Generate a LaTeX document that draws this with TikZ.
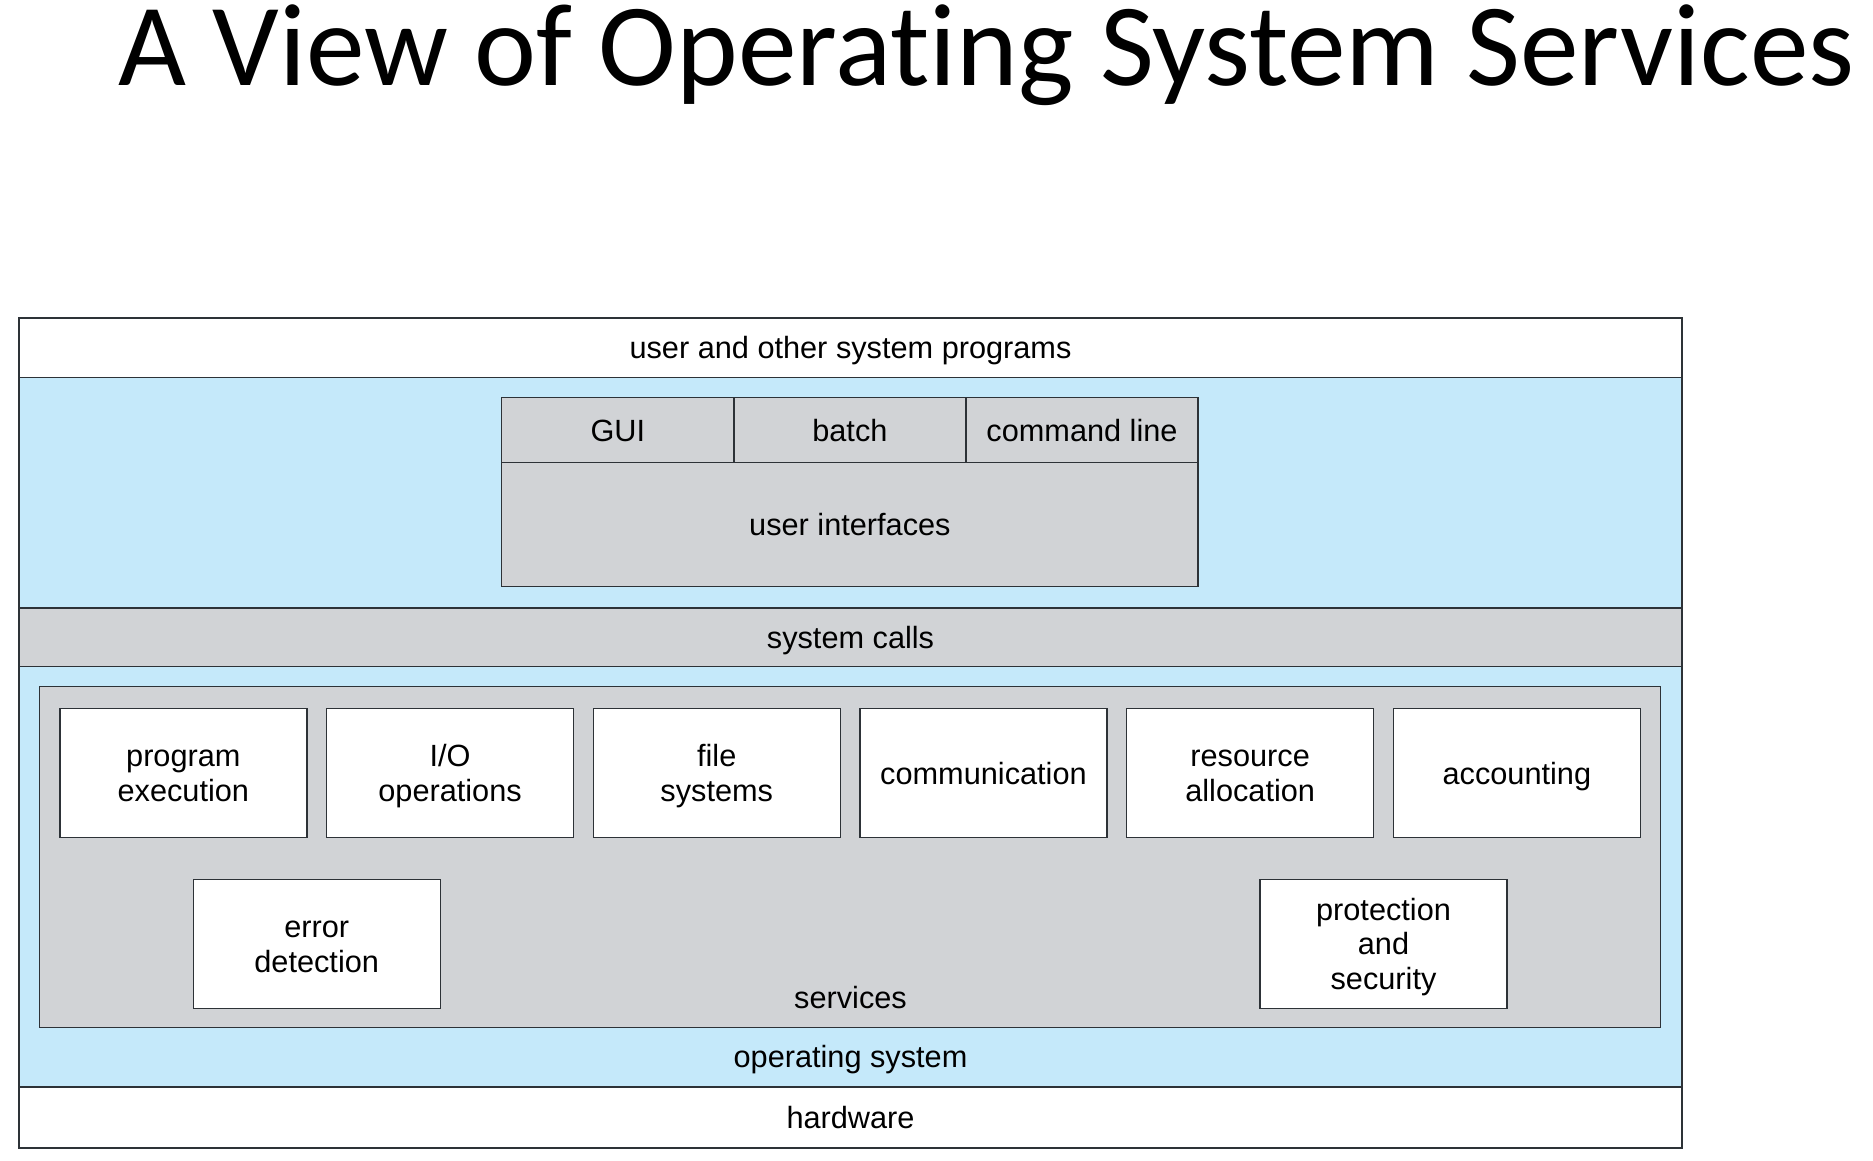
\documentclass[tikz,border=0pt]{standalone}
\usepackage{fontspec}
\setmainfont{Liberation Sans}
\newfontfamily\titlefont[Ligatures=NoCommon]{Carlito}
\usetikzlibrary{positioning}
\definecolor{osblue}{RGB}{197,233,250}
\definecolor{osgray}{RGB}{209,211,214}
\definecolor{osline}{RGB}{45,50,55}

\begin{document}
\begin{tikzpicture}[x=1pt,y=-1pt,
    font=\fontsize{30.7}{34.6}\selectfont,
    every node/.style={text height=22.4pt,text depth=0pt},
    layer/.style={draw=osline,line width=1.6pt,minimum width=1662.8pt,inner sep=0pt,outer sep=0pt},
    uicell/.style={draw=osline,fill=osgray,line width=1.3pt,minimum width=232.1pt,minimum height=64.5pt,inner sep=0pt,outer sep=0pt},
    service/.style={draw=osline,fill=white,line width=1.3pt,minimum width=247pt,minimum height=129pt,align=center,inner sep=0pt,outer sep=0pt}]
    \useasboundingbox (0,0) rectangle (1873,1160);

    \node[font=\titlefont\fontsize{117.4}{120}\selectfont,anchor=base] (title) at (986.5,85) {A View of Operating System Services};

    % layers
    \node[layer,fill=white,minimum height=59.8pt]  (userprog) at (850.5,347.6)  {user and other system programs};
    \node[layer,fill=osblue,minimum height=230.5pt] (uilayer)  at (850.5,492.75) {};
    \node[layer,fill=osgray,minimum height=58.5pt]  (syscalls) at (850.5,637.25) {system calls};
    \node[layer,fill=osblue,minimum height=420.5pt] (oslayer)  at (850.5,876.75) {};
    \node[layer,fill=white,minimum height=60.9pt]  (hardware) at (850.5,1117.45) {hardware};
    \node (oslabel) at (850.5,1056) {operating system};

    % user interfaces
    \node[uicell] (gui) at (617.8,430.05) {GUI};
    \node[uicell,right=0pt of gui] (batch) {batch};
    \node[uicell,right=0pt of batch] (cmdline) {command line};
    \node[uicell,minimum width=696.4pt,minimum height=124.2pt,below=0pt of batch] (uis) {user interfaces};

    % services
    \node[draw=osline,fill=osgray,line width=1.3pt,minimum width=1621pt,minimum height=340.5pt,inner sep=0pt] (services) at (849.9,857.05) {};
    \node (servlabel) at (850.5,997.4) {services};

    \foreach \name/\lines/\txt [count=\i from 0, evaluate=\lines as \boxht using 22.4+(\lines-1)*34.6] in {progexec/2/{program\\execution}, iops/2/{I/O\\operations}, filesys/2/{file\\systems}, comm/1/{communication}, resalloc/2/{resource\\allocation}, acct/1/{accounting}}
        \node[service,text height=\boxht pt] (\name) at (183.35+266.7*\i,772.85) {\txt};

    \node[service,text height=57pt]   (errdet)  at (316.7,943.7)  {error\\detection};
    \node[service,text height=91.6pt] (protsec) at (1383.5,943.7) {protection\\and\\security};
\end{tikzpicture}
\end{document}
